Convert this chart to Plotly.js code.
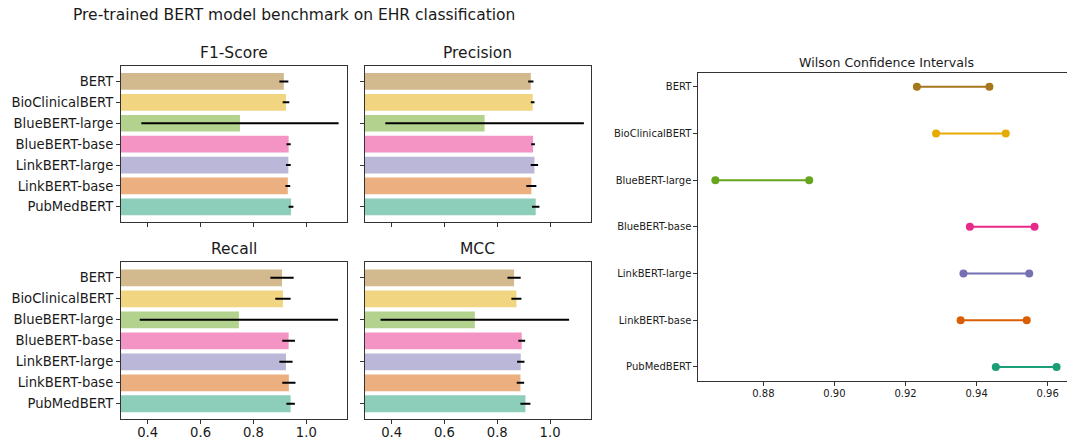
<!DOCTYPE html>
<html>
<head>
<meta charset="utf-8">
<script src="https://cdn.plot.ly/plotly-3.0.1.min.js"></script>
<style>
html,body{margin:0;padding:0;overflow:hidden;background:#fff;}
#chart{width:1067px;height:443px;}
</style>
</head>
<body>
<div id="chart"></div>
<script>
// ---- data ----
const models = ["BERT","BioClinicalBERT","BlueBERT-large","BlueBERT-base","LinkBERT-large","LinkBERT-base","PubMedBERT"];
const f1 = [0.915, 0.923, 0.749, 0.933, 0.932, 0.930, 0.942];
const f1Err = [0.017, 0.0125, 0.373, 0.008, 0.009, 0.009, 0.009];
const precision = [0.927, 0.934, 0.752, 0.9355, 0.9406, 0.929, 0.9456];
const precisionErr = [0.010, 0.007, 0.376, 0.007, 0.014, 0.019, 0.014];
const recall = [0.908, 0.9115, 0.745, 0.933, 0.923, 0.934, 0.9406];
const recallErr = [0.044, 0.029, 0.375, 0.024, 0.025, 0.025, 0.016];
const mcc = [0.8636, 0.8725, 0.715, 0.8926, 0.889, 0.8877, 0.9066];
const mccErr = [0.025, 0.019, 0.357, 0.013, 0.014, 0.014, 0.019];
const wilsonLow = [0.9232, 0.9286, 0.8665, 0.9381, 0.9363, 0.9355, 0.9454];
const wilsonHigh = [0.9436, 0.9482, 0.8929, 0.9563, 0.9548, 0.9541, 0.9625];
const barTicks = [0.4, 0.6, 0.8, 1.0];
const barTickText = ["0.4", "0.6", "0.8", "1.0"];
const wilsonTicks = [0.88, 0.90, 0.92, 0.94, 0.96];
const wilsonTickText = ["0.88", "0.90", "0.92", "0.94", "0.96"];
const panelTitles = ["F1-Score", "Precision", "Recall", "MCC"];

// ---- styles ----
const lineColors = ["#a6761d","#e6ab02","#66a61e","#e7298a","#7570b3","#d95f02","#1b9e77"];
function hexToRgba(h, a){
  const r = parseInt(h.slice(1,3),16), g = parseInt(h.slice(3,5),16), b = parseInt(h.slice(5,7),16);
  return `rgba(${r},${g},${b},${a})`;
}
const barColors = lineColors.map(c => hexToRgba(c, 0.5));
const FONT = "DejaVu Sans, sans-serif";
const TXT = "#1a1a1a";
const SPINE = "#333333";

const panels = [
  {vals: f1, err: f1Err},
  {vals: precision, err: precisionErr},
  {vals: recall, err: recallErr},
  {vals: mcc, err: mccErr}
];

const traces = [];
panels.forEach((p, i) => {
  const n = i + 1;
  traces.push({
    type: "bar", orientation: "h",
    x: p.vals, y: models,
    xaxis: "x" + (n === 1 ? "" : n), yaxis: "y" + (n === 1 ? "" : n),
    width: 0.8,
    marker: {color: barColors, line: {width: 0}},
    error_x: {type: "data", array: p.err, visible: true, color: "#000", thickness: 2, width: 0},
    hoverinfo: "x+y", showlegend: false
  });
});

models.forEach((m, i) => {
  traces.push({
    type: "scatter", mode: "lines+markers",
    x: [wilsonLow[i], wilsonHigh[i]], y: [m, m],
    xaxis: "x5", yaxis: "y5",
    line: {color: lineColors[i], width: 2},
    marker: {color: lineColors[i], size: 8},
    showlegend: false
  });
});

const W = 1067, H = 443;
const px = v => v / W;
const py = v => 1 - v / H;

const leftX = [px(121), px(347)];
const rightX = [px(365), px(590.7)];
const topY = [py(222.3), py(66)];
const botY = [py(419.3), py(262.3)];

function barX(domain, labels, anchor){
  return {
    domain: domain, anchor: anchor, range: [0.2991, 1.1538],
    tickmode: "array", tickvals: barTicks, ticktext: barTickText,
    showticklabels: labels, ticks: "outside", ticklen: 4, tickwidth: 1, tickcolor: SPINE,
    ticklabelstandoff: -3,
    showline: true, mirror: true, linecolor: SPINE, linewidth: 1,
    showgrid: false, zeroline: false,
    tickfont: {family: FONT, size: 13.2, color: TXT}
  };
}
function barY(domain, labels, anchor){
  return {
    domain: domain, anchor: anchor, type: "category",
    categoryorder: "array", categoryarray: models,
    range: [6.74, -0.74],
    tickmode: "array", tickvals: labels ? models : [models[0], models[2], models[4], models[6]],
    showticklabels: labels, ticks: "outside", ticklen: 4, tickwidth: 1, tickcolor: SPINE,
    showline: true, mirror: true, linecolor: SPINE, linewidth: 1,
    showgrid: false, zeroline: false,
    tickfont: {family: FONT, size: 13.2, color: TXT}
  };
}

const layout = {
  width: W, height: H,
  margin: {l: 0, r: 0, t: 0, b: 0},
  paper_bgcolor: "#fff", plot_bgcolor: "#fff",
  font: {family: FONT, color: TXT},
  showlegend: false,
  xaxis: barX(leftX, false, "y"),
  yaxis: barY(topY, true, "x"),
  xaxis2: barX(rightX, false, "y2"),
  yaxis2: barY(topY, false, "x2"),
  xaxis3: barX(leftX, true, "y3"),
  yaxis3: barY(botY, true, "x3"),
  xaxis4: barX(rightX, true, "y4"),
  yaxis4: barY(botY, false, "x4"),
  xaxis5: {
    domain: [px(698.3), 1], anchor: "y5", range: [0.8617, 0.96543],
    tickmode: "array", tickvals: wilsonTicks, ticktext: wilsonTickText,
    ticks: "outside", ticklen: 4, tickwidth: 1, tickcolor: SPINE,
    ticklabelstandoff: -1,
    showline: true, mirror: true, linecolor: SPINE, linewidth: 1,
    showgrid: false, zeroline: false,
    tickfont: {family: FONT, size: 10, color: TXT}
  },
  yaxis5: {
    domain: [py(381), py(72.7)], anchor: "x5", type: "category",
    categoryorder: "array", categoryarray: models,
    range: [6.3, -0.3],
    ticks: "outside", ticklen: 4, tickwidth: 1, tickcolor: SPINE,
    showline: true, mirror: false, linecolor: SPINE, linewidth: 1,
    showgrid: false, zeroline: false,
    tickfont: {family: FONT, size: 10, color: TXT}
  },
  annotations: [
    {text: "Pre-trained BERT model benchmark on EHR classification", xref: "paper", yref: "paper",
     x: px(294), y: py(15), xanchor: "center", yanchor: "middle", showarrow: false,
     font: {family: FONT, size: 15.5, color: TXT}},
    {text: panelTitles[0], xref: "paper", yref: "paper", x: px(234), y: py(52.7),
     xanchor: "center", yanchor: "middle", showarrow: false, font: {family: FONT, size: 15.5, color: TXT}},
    {text: panelTitles[1], xref: "paper", yref: "paper", x: px(477.85), y: py(52.7),
     xanchor: "center", yanchor: "middle", showarrow: false, font: {family: FONT, size: 15.5, color: TXT}},
    {text: panelTitles[2], xref: "paper", yref: "paper", x: px(234), y: py(249.3),
     xanchor: "center", yanchor: "middle", showarrow: false, font: {family: FONT, size: 15.5, color: TXT}},
    {text: panelTitles[3], xref: "paper", yref: "paper", x: px(477.85), y: py(249.3),
     xanchor: "center", yanchor: "middle", showarrow: false, font: {family: FONT, size: 15.5, color: TXT}},
    {text: "Wilson Confidence Intervals", xref: "paper", yref: "paper", x: px(886), y: py(62.7),
     xanchor: "center", yanchor: "middle", showarrow: false, font: {family: FONT, size: 12.6, color: TXT}}
  ]
};

Plotly.newPlot("chart", traces, layout, {displayModeBar: false, staticPlot: true});
</script>
</body>
</html>
